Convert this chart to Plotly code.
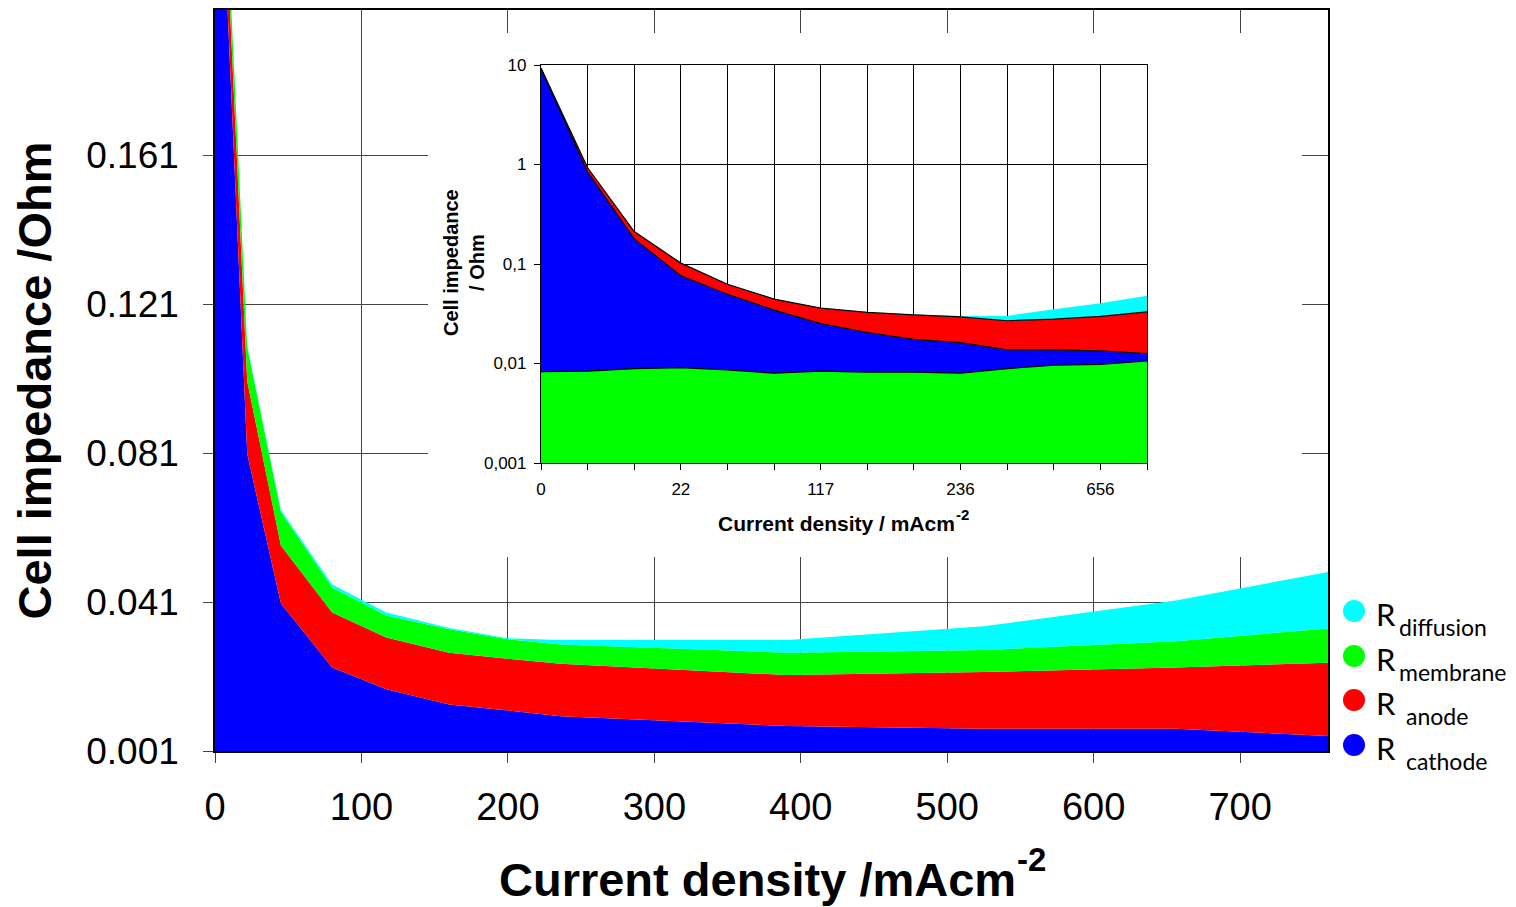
import plotly.graph_objects as go

# ---------------- data ----------------
current_density = [0, 2, 6, 22, 45, 80, 117, 160, 200, 236, 391, 525, 656, 760]
inset_label_index = [0, 3, 6, 9, 12]          # categories labelled on the inset axis

# main chart (stacked, Ohm)
main_cathode = [9.2, 0.85, 0.223, 0.0808, 0.0406, 0.0234, 0.0176, 0.0135, 0.0119, 0.0103, 0.0077, 0.0070, 0.0070, 0.0050]
main_anode = [0.09, 0.08, 0.013, 0.0195, 0.0156, 0.0148, 0.0139, 0.0139, 0.0139, 0.0141, 0.0137, 0.0152, 0.0164, 0.0197]
main_membrane = [0.009, 0.009, 0.007, 0.0091, 0.0090, 0.0067, 0.0059, 0.0063, 0.0052, 0.0052, 0.0060, 0.0059, 0.0071, 0.0092]
main_diffusion = [0.0005, 0.0005, 0.0005, 0.0005, 0.0005, 0.0008, 0.0008, 0.0003, 0.0003, 0.0012, 0.0034, 0.0064, 0.0109, 0.0152]

# inset chart (stacked, log scale, Ohm)
inset_membrane = [0.0083, 0.0084, 0.0089, 0.0091, 0.0086, 0.0080, 0.0084, 0.0082, 0.0082, 0.0080, 0.0089, 0.0096, 0.0098, 0.0106]
inset_cathode = [9.2, 0.83, 0.170, 0.067, 0.041, 0.0264, 0.0168, 0.0123, 0.0093, 0.0082, 0.0048, 0.0041, 0.0036, 0.0020]
inset_anode = [0.1, 0.089, 0.033, 0.026, 0.013, 0.010, 0.0108, 0.0121, 0.0133, 0.0132, 0.0132, 0.0142, 0.0163, 0.0204]
inset_diffusion = [0.0, 0.001, 0.001, 0.001, 0.0004, 0.0003, 0.0004, 0.0004, 0.0003, 0.0007, 0.0032, 0.0072, 0.0107, 0.015]

main_y_ticks = [0.001, 0.041, 0.081, 0.121, 0.161]
main_x_ticks = [0, 100, 200, 300, 400, 500, 600, 700]
inset_y_ticks = [0.001, 0.01, 0.1, 1, 10]
inset_y_labels = ["0,001", "0,01", "0,1", "1", "10"]

x_title_main = "Current density /mAcm"
x_title_inset = "Current density / mAcm"
x_title_exponent = "-2"
y_title_main = "Cell impedance /Ohm"
y_title_inset = "Cell impedance<br>/ Ohm"

legend_symbol = "R"
legend_subs = ["diffusion", "membrane", "anode", "cathode"]

BLUE, RED, GREEN, CYAN = "#0000FF", "#FF0000", "#00FF00", "#00FFFF"
legend_colors = [CYAN, GREEN, RED, BLUE]

FONT = "Liberation Sans, Arial, sans-serif"
LEG_FONT = "Lato, Carlito, sans-serif"

# inset x axis: equally spaced categories (position = category index)
inset_pos = list(range(len(current_density)))

fig = go.Figure()

# ---------------- main stacked area ----------------
for vals, col in [(main_cathode, BLUE), (main_anode, RED), (main_membrane, GREEN), (main_diffusion, CYAN)]:
    fig.add_trace(go.Scatter(
        x=current_density, y=vals, stackgroup="main", mode="none",
        fillcolor=col, xaxis="x", yaxis="y", hoverinfo="skip", showlegend=False))

# ---------------- inset stacked area (log) ----------------
for vals, col, lw in [(inset_membrane, GREEN, 1.2), (inset_cathode, BLUE, 1.2),
                      (inset_anode, RED, 1.2), (inset_diffusion, CYAN, 0)]:
    fig.add_trace(go.Scatter(
        x=inset_pos, y=vals, stackgroup="inset",
        mode="lines" if lw else "none",
        line=dict(color="black", width=lw) if lw else None,
        fillcolor=col, xaxis="x2", yaxis="y2", hoverinfo="skip", showlegend=False))

# layout helpers: pixel -> paper fraction of the main plot area (215..1328 x, 10..751 y)
def px_x(p):
    return (p - 215) / 1113.0

def px_y(p):
    return (751 - p) / 741.0

X_MAX, Y_MIN, Y_MAX = 760, 0.001, 0.2

def px_to_xdata(p):
    return px_x(p) * X_MAX

def px_to_ydata(p):
    return Y_MIN + px_y(p) * (Y_MAX - Y_MIN)

grid_main = "#444444"

fig.update_layout(
    width=1516, height=907,
    margin=dict(l=215, r=188, t=10, b=156),
    paper_bgcolor="white", plot_bgcolor="white",
    showlegend=False,
    font=dict(family=FONT, color="black"),
    xaxis=dict(
        domain=[0, 1], range=[0, X_MAX], tickmode="array", tickvals=main_x_ticks,
        ticks="outside", ticklen=10, tickcolor=grid_main, tickwidth=1.3,
        showgrid=True, gridcolor=grid_main, gridwidth=1.3, zeroline=False,
        showline=True, linecolor="black", linewidth=1.5, mirror=True,
        tickfont=dict(size=38, family=FONT, color="black"), ticklabelstandoff=12,
        automargin=False, fixedrange=True,
    ),
    yaxis=dict(
        domain=[0, 1], range=[Y_MIN, Y_MAX], tickmode="array", tickvals=main_y_ticks,
        tickformat=".3f",
        ticks="outside", ticklen=10, tickcolor=grid_main, tickwidth=1.3,
        showgrid=True, gridcolor=grid_main, gridwidth=1.3, zeroline=False,
        showline=True, linecolor="black", linewidth=1.5, mirror=True,
        tickfont=dict(size=37, family=FONT, color="black"), ticklabelstandoff=17,
        title=dict(text="<b>" + y_title_main + "</b>",
                   font=dict(size=47, family=FONT, color="black"), standoff=20),
        automargin=False, fixedrange=True,
    ),
    # inset axes
    xaxis2=dict(
        domain=[px_x(541), px_x(1147)], anchor="y2",
        range=[0, len(current_density) - 1],
        tickmode="array", tickvals=inset_label_index,
        ticktext=[str(current_density[i]) for i in inset_label_index],
        ticks="outside", ticklen=6, tickcolor="black", tickwidth=1,
        showgrid=True, gridcolor="black", gridwidth=1, zeroline=False,
        minor=dict(dtick=1, tick0=0, showgrid=True, gridcolor="black", gridwidth=1,
                   ticks="outside", ticklen=6, tickcolor="black", tickwidth=1),
        showline=True, linecolor="black", linewidth=1.2, mirror=True,
        tickfont=dict(size=17, family=FONT, color="black"), ticklabelstandoff=4,
        automargin=False, fixedrange=True,
    ),
    yaxis2=dict(
        domain=[px_y(463), px_y(65)], anchor="x2", type="log", range=[-3, 1],
        tickmode="array", tickvals=inset_y_ticks, ticktext=inset_y_labels,
        ticks="outside", ticklen=6, tickcolor="black", tickwidth=1,
        showgrid=True, gridcolor="black", gridwidth=1, zeroline=False,
        showline=True, linecolor="black", linewidth=1.2, mirror=True,
        tickfont=dict(size=17, family=FONT, color="black"), ticklabelstandoff=4,
        automargin=False, fixedrange=True,
    ),
)

# white panel behind the inset: covers the main grid, sits under the main traces
fig.add_shape(type="rect", xref="x", yref="y", layer="between",
              x0=px_to_xdata(428), x1=px_to_xdata(1302),
              y0=px_to_ydata(557), y1=px_to_ydata(33),
              fillcolor="white", line=dict(width=0))

def add_text(text, x, y, size, xanchor="left", angle=0, family=FONT, yshift=0):
    fig.add_annotation(
        text=text, xref="paper", yref="paper", x=px_x(x), y=px_y(y),
        xanchor=xanchor, yanchor="middle", textangle=angle, yshift=yshift,
        showarrow=False, font=dict(size=size, family=family, color="black"))

# main x-axis title with superscript exponent
add_text("<b>" + x_title_main + "</b>", 497, 879, 47)
add_text("<b>" + x_title_exponent + "</b>", 1015, 859, 33)

# inset x-axis title with exponent
add_text("<b>" + x_title_inset + "</b>", 716, 523, 21)
add_text("<b>" + x_title_exponent + "</b>", 954, 514, 15)

# inset y-axis title (two lines)
add_text("<b>" + y_title_inset + "</b>", 464, 263, 20, xanchor="center", angle=-90)

# legend: coloured dots + "R" with subscript label
legend_rows = [611, 656, 700, 745]
sub_left = [1397, 1397, 1404, 1404]
for sub, col, row, sx in zip(legend_subs, legend_colors, legend_rows, sub_left):
    fig.add_shape(type="circle", xref="paper", yref="paper",
                  xsizemode="pixel", ysizemode="pixel",
                  xanchor=px_x(1354), yanchor=px_y(row),
                  x0=-11, x1=11, y0=-11, y1=11,
                  fillcolor=col, line=dict(width=0))
    add_text(legend_symbol, 1374, row, 31, family=LEG_FONT, yshift=-3)
    add_text(sub, sx, row, 23, family=LEG_FONT, yshift=-16)

fig.write_html("out.html")
